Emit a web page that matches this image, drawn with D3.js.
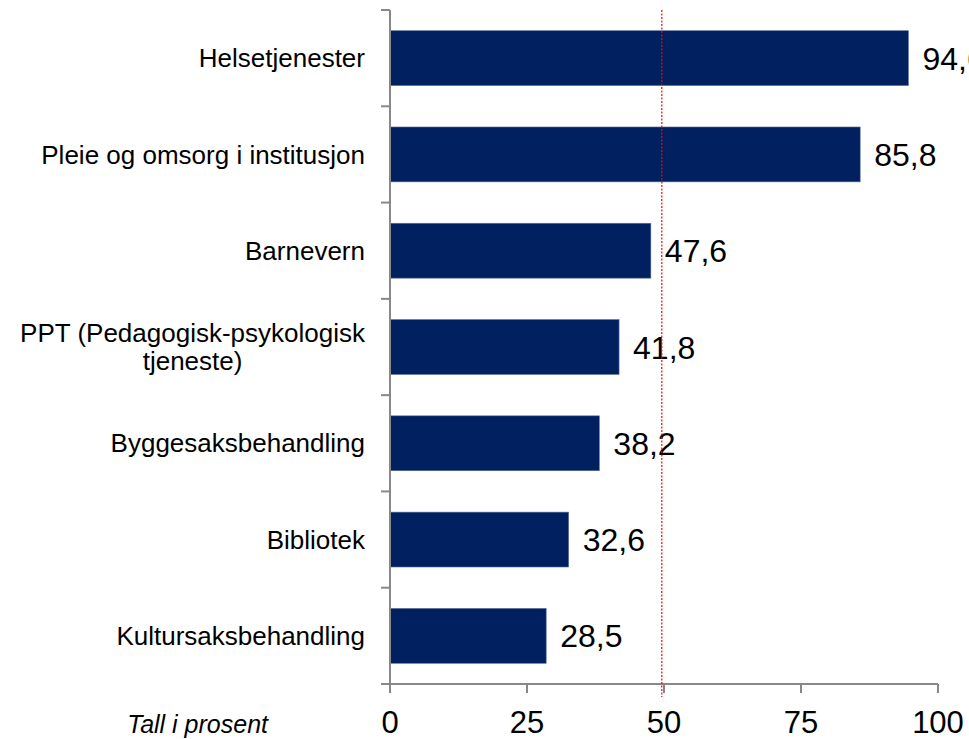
<!DOCTYPE html>
<meta charset="utf-8">
<style>
body {
    margin: 0;
    background: #fff;
}
svg {
    display: block;
    font-family: Arial, "Liberation Sans", sans-serif;
}
.bars rect {
    fill: #002060;
    stroke: #5b6f98;
    stroke-width: 0.6px;
}
.axis line, .axis path {
    stroke: #888;
    stroke-width: 2px;
    fill: none;
}
.cat-labels text {
    font-size: 26px;
    fill: #000;
}
.value-labels text {
    font-size: 32px;
    fill: #000;
}
.tick-labels text {
    font-size: 31px;
    fill: #000;
}
.unit text {
    font-size: 25px;
    font-style: italic;
    fill: #000;
}
.refline {
    stroke: #ff0000;
    stroke-width: 1.2px;
    stroke-dasharray: 2,1.5;
}
</style>

<svg id="chart" width="969" height="739"></svg>

<script src="https://cdn.jsdelivr.net/npm/d3@7"></script>
<script>
    var categories = [
        ["Helsetjenester"],
        ["Pleie og omsorg i institusjon"],
        ["Barnevern"],
        ["PPT (Pedagogisk-psykologisk", "tjeneste)"],
        ["Byggesaksbehandling"],
        ["Bibliotek"],
        ["Kultursaksbehandling"]
    ];
    var values = [94.6, 85.8, 47.6, 41.8, 38.2, 32.6, 28.5];
    var xTicks = [0, 25, 50, 75, 100];
    var refValue = 49.6;
    var unitLabel = "Tall i prosent";

    var svg = d3.select("#chart");

    var ids = d3.range(values.length);

    var x = d3.scaleLinear()
              .domain([0, 100])
              .range([390, 938]);
    var y = d3.scaleBand()
              .domain(ids)
              .range([10, 684])
              .paddingInner(0.43)
              .paddingOuter(0.215);

    var fmt = function(v) { return v.toFixed(1).replace(".", ","); };

    // bars
    svg.append("g")
       .attr("class", "bars")
       .selectAll("rect")
       .data(ids)
       .enter().append("rect")
       .attr("x", x(0))
       .attr("y", function(i) { return y(i); })
       .attr("width", function(i) { return x(values[i]) - x(0); })
       .attr("height", y.bandwidth());

    // y axis: line + ticks at the band boundaries
    var step = y.step();
    var yAxis = svg.append("g").attr("class", "axis");
    yAxis.append("line")
         .attr("x1", x(0)).attr("x2", x(0))
         .attr("y1", 10).attr("y2", 684);
    yAxis.selectAll("line.tk")
         .data(d3.range(values.length + 1))
         .enter().append("line")
         .attr("class", "tk")
         .attr("x1", x(0) - 9).attr("x2", x(0))
         .attr("y1", function(k) { return 10 + k * step; })
         .attr("y2", function(k) { return 10 + k * step; });

    // x axis
    var xAxis = svg.append("g").attr("class", "axis");
    xAxis.append("line")
         .attr("x1", x(0) - 9).attr("x2", x(100))
         .attr("y1", 684).attr("y2", 684);
    xAxis.selectAll("line.tk")
         .data(xTicks)
         .enter().append("line")
         .attr("class", "tk")
         .attr("x1", function(d) { return x(d); })
         .attr("x2", function(d) { return x(d); })
         .attr("y1", 684).attr("y2", 693);

    svg.append("g")
       .attr("class", "tick-labels")
       .selectAll("text")
       .data(xTicks)
       .enter().append("text")
       .attr("x", function(d) { return x(d); })
       .attr("y", 733)
       .attr("text-anchor", "middle")
       .text(function(d) { return d; });

    // category labels, right aligned; wrapped lines centred under the first one
    var cat = svg.append("g")
       .attr("class", "cat-labels")
       .selectAll("text")
       .data(ids)
       .enter().append("text")
       .attr("text-anchor", "end")
       .attr("x", 365)
       .attr("y", function(i) {
           var n = categories[i].length;
           return y(i) + y.bandwidth() / 2 - (n - 1) * 14;
       })
       .attr("dy", "0.35em")
       .text(function(i) { return categories[i][0]; });

    cat.each(function(i) {
        var lines = categories[i];
        if (lines.length < 2) return;
        var w = this.getComputedTextLength();
        var mid = 365 - w / 2;
        var base = +d3.select(this).attr("y");
        for (var k = 1; k < lines.length; k++) {
            d3.select(this.parentNode).append("text")
              .attr("text-anchor", "middle")
              .attr("x", mid)
              .attr("y", base + k * 28)
              .attr("dy", "0.35em")
              .text(lines[k]);
        }
    });

    // value labels
    svg.append("g")
       .attr("class", "value-labels")
       .selectAll("text")
       .data(ids)
       .enter().append("text")
       .attr("x", function(i) { return x(values[i]) + 14; })
       .attr("y", function(i) { return y(i) + y.bandwidth() / 2; })
       .attr("dy", "0.36em")
       .text(function(i) { return fmt(values[i]); });

    // red dotted reference line
    svg.append("line")
       .attr("class", "refline")
       .attr("x1", x(refValue)).attr("x2", x(refValue))
       .attr("y1", 10).attr("y2", 697);

    svg.append("g")
       .attr("class", "unit")
       .append("text")
       .attr("x", 268)
       .attr("y", 733)
       .attr("text-anchor", "end")
       .text(unitLabel);
</script>
